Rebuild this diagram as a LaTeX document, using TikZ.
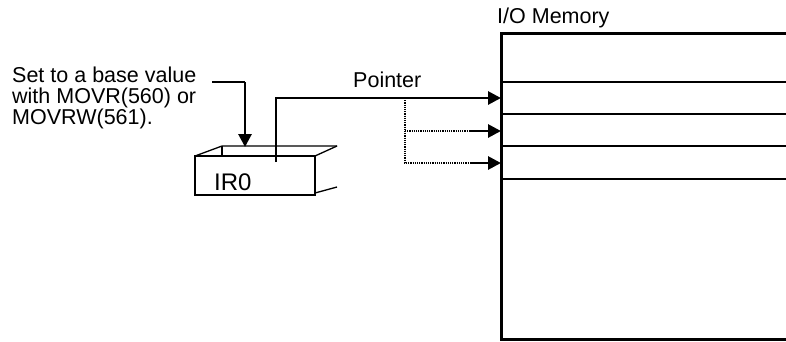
\documentclass[tikz,border=0pt]{standalone}
\usepackage{fontspec}
\setmainfont{Liberation Sans}
\usetikzlibrary{arrows.meta}
\begin{document}
\begin{tikzpicture}[x=1pt,y=-1pt,
  lbl/.style={inner sep=0pt, font=\fontsize{21.5}{21}\selectfont},
  heavy/.style={line width=2.8pt},
  light/.style={line width=1.3pt},
  branch/.style={line width=1.2pt, densely dotted},
  tipped/.style={-{Triangle[length=13pt,width=13pt]}},
]
\useasboundingbox (0,0) rectangle (786,341);

% texts
\node[lbl, anchor=north west, align=left] (settext) at (12,67)
  {Set to a base value\\with MOVR(560) or\\MOVRW(561).};
\node[lbl, anchor=base west] (ptrtext) at (353,87) {Pointer};
\node[lbl, anchor=base west] (iotext) at (497,23) {I/O Memory};

% IR0 box
\draw[heavy] (195,156) rectangle (315,195);
\draw[light] (195,156) -- (222,146) -- (337,146);
\draw[light] (315,156) -- (337,146);
\draw[light] (222,146) -- (222,156);
\draw[light] (315,193) -- (337,187);
\node[lbl, font=\fontsize{24}{24}\selectfont, anchor=base west] (ir0) at (214,190) {IR0};

% memory block
\draw[line width=3pt] (786,33) -- (501,33) -- (501,339) -- (786,339);
\coordinate (m1) at (501,82);
\coordinate (m2) at (501,114);
\coordinate (m3) at (501,146);
\coordinate (m4) at (501,179);
\draw[light] (m1) -- (786,82);
\draw[light] (m2) -- (786,114);
\draw[light] (m3) -- (786,146);
\draw[light] (m4) -- (786,179);

% set arrow
\coordinate (sa) at (212,82);
\coordinate (sb) at (245,82);
\coordinate (sc) at (245,147);
\draw[light] (sa) -- (sb);
\draw[heavy, tipped] (sb) -- (sc);

% pointer
\coordinate (p0) at (276,162);
\coordinate (p1) at (276,98);
\coordinate (t1) at (501,98);
\draw[heavy, tipped] (p0) -- (p1) -- (t1);

% branches
\coordinate (b0) at (405,98);
\coordinate (b1) at (405,131);
\coordinate (b2) at (405,163);
\coordinate (c1) at (470,131);
\coordinate (c2) at (470,163);
\coordinate (t2) at (501,131);
\coordinate (t3) at (501,163);
\draw[branch] (b0) -- (b2) -- (c2);
\draw[branch] (b1) -- (c1);
\draw[heavy, tipped] (c1) -- (t2);
\draw[heavy, tipped] (c2) -- (t3);
\end{tikzpicture}
\end{document}
